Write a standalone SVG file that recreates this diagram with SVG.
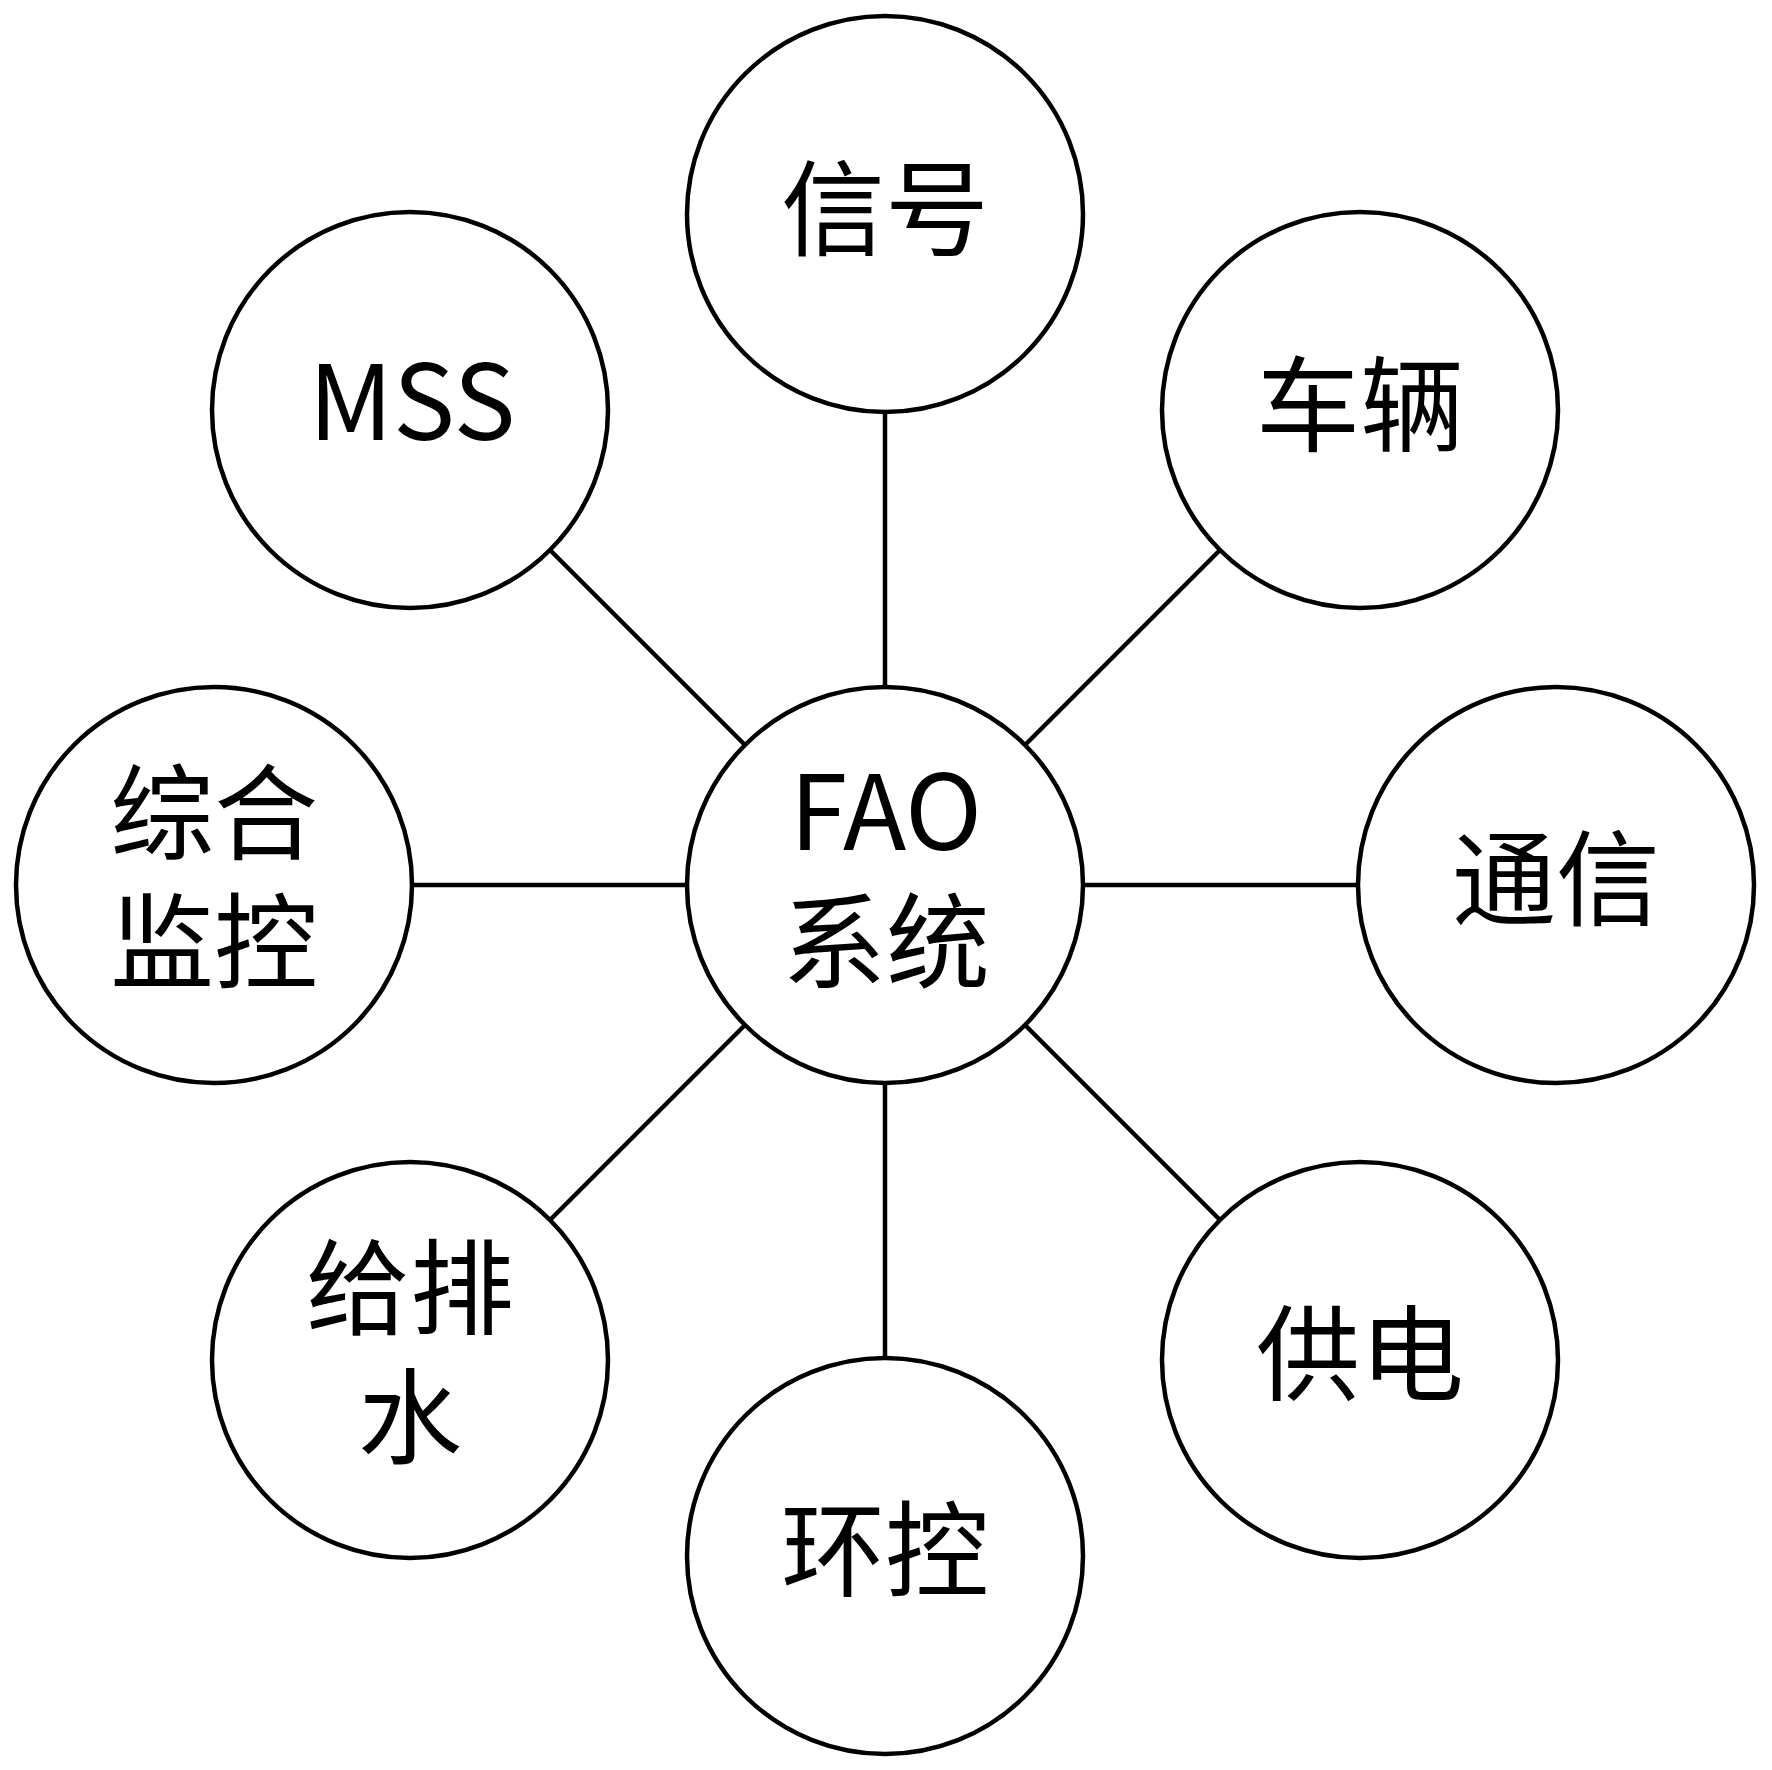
<svg xmlns="http://www.w3.org/2000/svg" width="1772" height="1770" viewBox="0 0 1772 1770">
<style>
.node{fill:#fff;stroke:#000;stroke-width:4.5}
.edge{stroke:#000;stroke-width:4.5;fill:none}
.lbl{font-family:"Noto Sans CJK SC","Noto Sans",sans-serif;font-size:104px;fill:#000;text-anchor:middle}
</style>
<rect width="1772" height="1770" fill="#fff"/>
<g id="connectors">
<line class="edge" x1="885" y1="412" x2="885" y2="687"/>
<line class="edge" x1="885" y1="1083" x2="885" y2="1358"/>
<line class="edge" x1="412" y1="885" x2="687" y2="885"/>
<line class="edge" x1="1083" y1="885" x2="1358" y2="885"/>
<line class="edge" x1="550" y1="550" x2="745" y2="745"/>
<line class="edge" x1="1220" y1="550" x2="1025" y2="745"/>
<line class="edge" x1="550" y1="1220" x2="745" y2="1025"/>
<line class="edge" x1="1220" y1="1220" x2="1025" y2="1025"/>
</g>
<g id="node-fao">
<circle class="node" cx="885" cy="885" r="198"/>
<text class="lbl" x="886" y="850">FAO</text>
<text class="lbl" x="886" y="981">系统</text>
</g>
<g id="node-xinhao">
<circle class="node" cx="885" cy="214" r="198"/>
<text class="lbl" x="885" y="248">信号</text>
</g>
<g id="node-cheliang">
<circle class="node" cx="1360" cy="410" r="198"/>
<text class="lbl" x="1360" y="444">车辆</text>
</g>
<g id="node-tongxin">
<circle class="node" cx="1556" cy="885" r="198"/>
<text class="lbl" x="1556" y="918">通信</text>
</g>
<g id="node-gongdian">
<circle class="node" cx="1360" cy="1360" r="198"/>
<text class="lbl" x="1360" y="1393">供电</text>
</g>
<g id="node-huankong">
<circle class="node" cx="885" cy="1556" r="198"/>
<text class="lbl" x="885" y="1589">环控</text>
</g>
<g id="node-geipaishui">
<circle class="node" cx="410" cy="1360" r="198"/>
<text class="lbl" x="410" y="1327">给排</text>
<text class="lbl" x="410" y="1456">水</text>
</g>
<g id="node-zonghejiankong">
<circle class="node" cx="214" cy="885" r="198"/>
<text class="lbl" x="214" y="852">综合</text>
<text class="lbl" x="214" y="981">监控</text>
</g>
<g id="node-mss">
<circle class="node" cx="410" cy="410" r="198"/>
<text class="lbl" x="412" y="440">MSS</text>
</g>
</svg>
